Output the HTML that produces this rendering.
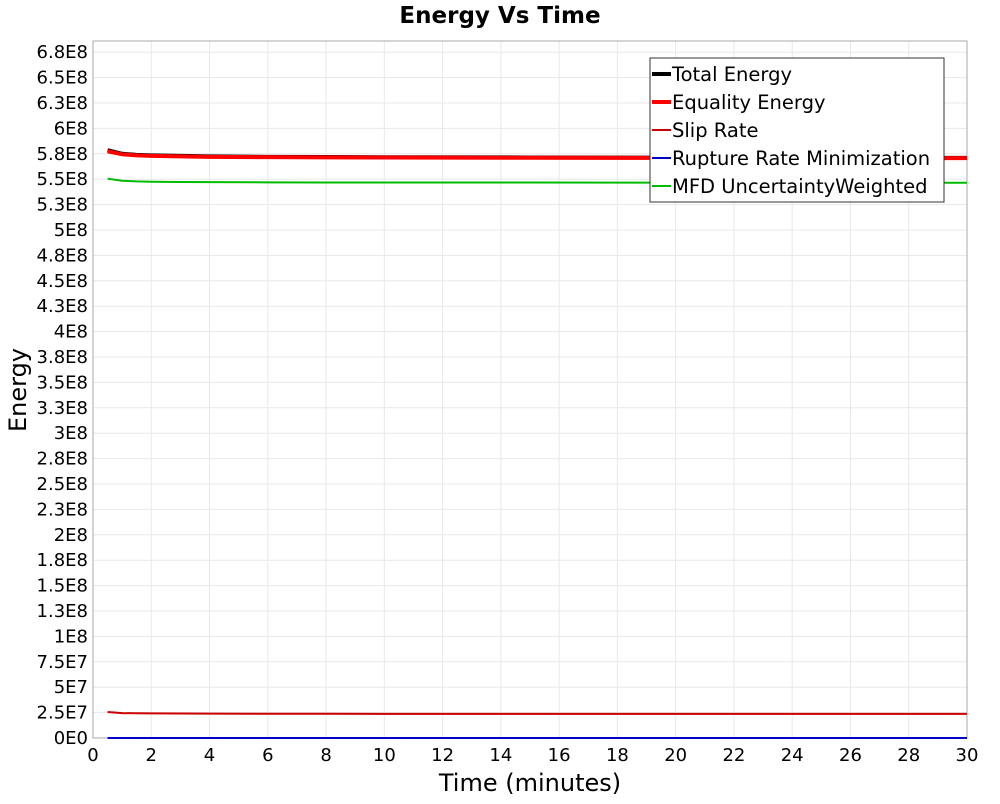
<!DOCTYPE html>
<html><head><meta charset="utf-8"><style>
body{margin:0;background:#fff;font-family:"DejaVu Sans","Liberation Sans",sans-serif}
</style></head><body>
<svg id="chart" width="1000" height="800" xmlns="http://www.w3.org/2000/svg" font-family="DejaVu Sans, Liberation Sans, sans-serif">
<text x="500" y="23" text-anchor="middle" font-size="23" font-weight="bold">Energy Vs Time</text>
<g id="grid"></g>
<rect x="93" y="41" width="874" height="697" fill="none" stroke="#aaa"/>
<g id="ticks"></g>
<g id="series"></g>
<text x="530" y="791" text-anchor="middle" font-size="24">Time (minutes)</text>
<text transform="translate(26,390) rotate(-90)" text-anchor="middle" font-size="24">Energy</text>
<g>
<rect x="650" y="58" width="294" height="144" fill="#fff" stroke="#333"/>
<g id="legend"></g>
</g>
</svg>
<script>
const times=[0.5,1,1.5,2,3,4,6,8,10,15,20,25,30];
const totalEnergy=[5.785e8,5.75e8,5.74e8,5.735e8,5.73e8,5.725e8,5.72e8,5.718e8,5.716e8,5.714e8,5.712e8,5.71e8,5.71e8];
const equalityEnergy=[5.775e8,5.745e8,5.735e8,5.73e8,5.725e8,5.72e8,5.717e8,5.715e8,5.713e8,5.711e8,5.71e8,5.708e8,5.707e8];
const slipRate=[2.56e7,2.45e7,2.43e7,2.42e7,2.41e7,2.4e7,2.39e7,2.39e7,2.38e7,2.38e7,2.38e7,2.37e7,2.37e7];
const ruptureRate=[0,0,0,0,0,0,0,0,0,0,0,0,0];
const mfdWeighted=[5.505e8,5.485e8,5.478e8,5.475e8,5.473e8,5.471e8,5.469e8,5.468e8,5.467e8,5.467e8,5.466e8,5.466e8,5.465e8];
const yTickLabels=["0E0","2.5E7","5E7","7.5E7","1E8","1.3E8","1.5E8","1.8E8","2E8","2.3E8","2.5E8","2.8E8","3E8","3.3E8","3.5E8","3.8E8","4E8","4.3E8","4.5E8","4.8E8","5E8","5.3E8","5.5E8","5.8E8","6E8","6.3E8","6.5E8","6.8E8"];
const xTicks=[0,2,4,6,8,10,12,14,16,18,20,22,24,26,28,30];
const NS="http://www.w3.org/2000/svg";
const X=v=>93+v/30*874, Y=v=>738-v/1e8*101.6;
function mk(t,a,p){const e=document.createElementNS(NS,t);for(const k in a)e.setAttribute(k,a[k]);p.appendChild(e);return e;}
const grid=document.getElementById('grid'),ticks=document.getElementById('ticks'),ser=document.getElementById('series'),leg=document.getElementById('legend');
xTicks.forEach(t=>{const g=mk('line',{x1:X(t),x2:X(t),y1:41,y2:738,stroke:'#e8e8e8'},grid);

const l=mk('text',{x:X(t),y:761,'text-anchor':'middle','font-size':18},ticks);l.textContent=t;
});
yTickLabels.forEach((s,i)=>{const v=i*2.5e7;const g=mk('line',{x1:93,x2:967,y1:Y(v),y2:Y(v),stroke:'#e8e8e8'},grid);

const l=mk('text',{x:88,y:Y(v)+6,'text-anchor':'end','font-size':18},ticks);l.textContent=s;
});
const series=[["Total Energy",totalEnergy,"#000",4],["Equality Energy",equalityEnergy,"#f00",4],["Slip Rate",slipRate,"#c00",2],["Rupture Rate Minimization",ruptureRate,"#00c",2],["MFD UncertaintyWeighted",mfdWeighted,"#0b0",2]];
series.forEach((s,i)=>{const d=times.map((t,j)=>(j?'L':'M')+X(t)+','+Y(s[1][j])).join(' ');
const p=mk('path',{d:d,fill:'none',stroke:s[2],'stroke-width':s[3]},ser);

const y=74+i*28;const ln=mk('line',{x1:652,x2:671,y1:y,y2:y,stroke:s[2],'stroke-width':s[3]},leg);

const tx=mk('text',{x:672,y:y+7,'font-size':19.5},leg);tx.textContent=s[0];
});
</script>
</body></html>
